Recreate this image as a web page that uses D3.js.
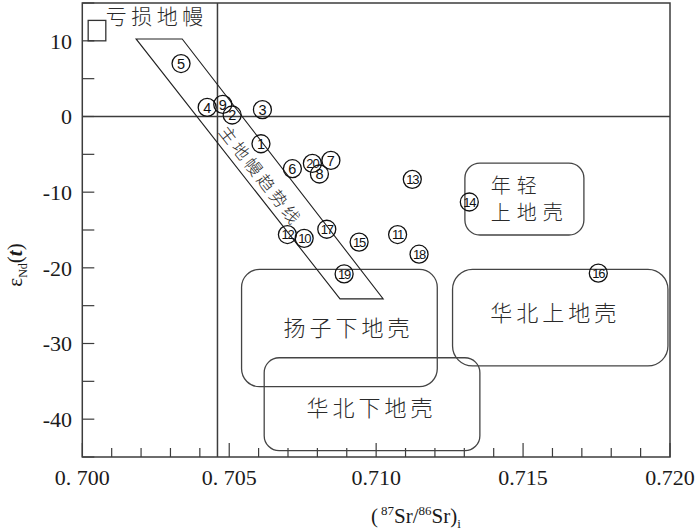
<!DOCTYPE html>
<html><head><meta charset="utf-8">
<script src="https://cdn.jsdelivr.net/npm/d3@7"></script>
<style>body{margin:0;background:#fff}</style>
</head><body><svg id="c" width="700" height="530"></svg>
<script>
// ---- data ----
const pointLabels = ["1","2","3","4","5","6","7","8","9","10","11","12","13","14","15","16","17","18","19","20"];
const srValues = [0.70608,0.70510,0.70613,0.70425,0.70336,0.70715,0.70846,0.70807,0.70478,0.70755,0.71073,0.70698,0.71123,0.71317,0.70942,0.71756,0.70832,0.71146,0.70891,0.70783];
const ndValues = [-3.6,0.2,0.9,1.2,7.0,-6.9,-5.8,-7.6,1.6,-16.1,-15.6,-15.6,-8.3,-11.3,-16.6,-20.7,-14.9,-18.2,-20.8,-6.2];

const xDomain = [0.700, 0.720];
const yDomain = [-45, 15];
const xTicks = [0.700, 0.705, 0.710, 0.715, 0.720];
const xTickLabels = ["0. 700", "0. 705", "0.710", "0.715", "0.720"];
const yTicks = [10, 0, -10, -20, -30, -40];
const yTickLabels = ["10", "0", "-10", "-20", "-30", "-40"];

// reference lines: bulk-earth Sr and CHUR Nd
const bulkEarthSr = 0.7046;
const churNd = 0;

// source regions
const regionNames = [["年轻", "上地壳"], ["华北上地壳"], ["扬子下地壳"], ["华北下地壳"]];
const regionSr = [[0.71302, 0.71707], [0.71260, 0.71993], [0.70542, 0.71208], [0.70619, 0.71353]];
const regionNd = [[-6.15, -15.66], [-20.2, -32.97], [-20.2, -35.71], [-31.88, -44.17]];
const regionLabelSr = [0.71390, 0.71603, 0.70899, 0.70977];
const regionLabelNd = [-11.0, -25.97, -27.95, -38.52];

// depleted mantle box
const dmName = "亏损地幔";
const dmSr = [0.7002, 0.7008];
const dmNd = [10, 12.7];

// mantle array band
const bandName = "主地幔趋势线";
const bandSr = [0.70183, 0.70340, 0.71024, 0.70877];
const bandNd = [10.25, 10.25, -24.1, -24.1];
const bandLabelSr = 0.70606;
const bandLabelNd = -7.9;

// ---- drawing ----
const svg = d3.select("#c");
const L = 82.3, T = 3, R = 670, B = 457;
const x = d3.scaleLinear().domain(xDomain).range([L, R]);
const y = d3.scaleLinear().domain(yDomain).range([B, T]);
const axisCol = "#3c3c3c";
const cjk = "'Noto Sans CJK SC', sans-serif";
const serif = "'Liberation Serif', 'Times New Roman', serif";

// frame
svg.append("rect").attr("x", L).attr("y", T).attr("width", R - L).attr("height", B - T)
  .attr("fill", "none").attr("stroke", axisCol).attr("stroke-width", 1.5);

// x ticks (inward)
const minorX = d3.range(0, 21).map(i => 0.700 + i * 0.001);
svg.append("g").selectAll("line").data(minorX).join("line")
  .attr("x1", d => x(d)).attr("x2", d => x(d))
  .attr("y1", B).attr("y2", (d, i) => B - (i % 5 === 0 ? 14 : 9))
  .attr("stroke", axisCol).attr("stroke-width", 1.2);
svg.append("g").selectAll("text").data(xTicks).join("text")
  .attr("x", d => x(d)).attr("y", 485)
  .attr("text-anchor", "middle").attr("font-family", serif).attr("font-size", 22).attr("fill", "#1a1a1a")
  .text((d, i) => xTickLabels[i]);

// y ticks (inward)
const minorY = d3.range(-45, 16, 5);
svg.append("g").selectAll("line").data(minorY).join("line")
  .attr("x1", L).attr("x2", L + 12)
  .attr("y1", d => y(d)).attr("y2", d => y(d))
  .attr("stroke", axisCol).attr("stroke-width", 1.2);
svg.append("g").selectAll("text").data(yTicks).join("text")
  .attr("x", 72).attr("y", d => y(d)).attr("dy", "0.35em")
  .attr("text-anchor", "end").attr("font-family", serif).attr("font-size", 22).attr("fill", "#1a1a1a")
  .text((d, i) => yTickLabels[i]);

// reference lines
svg.append("line").attr("x1", x(bulkEarthSr)).attr("x2", x(bulkEarthSr)).attr("y1", T).attr("y2", B)
  .attr("stroke", axisCol).attr("stroke-width", 1.5);
svg.append("line").attr("x1", L).attr("x2", R).attr("y1", y(churNd)).attr("y2", y(churNd))
  .attr("stroke", axisCol).attr("stroke-width", 1.5);

// axis titles
const xt = svg.append("text").attr("x", 416).attr("y", 523).attr("text-anchor", "middle")
  .attr("font-family", serif).attr("font-size", 21).attr("fill", "#1a1a1a");
xt.append("tspan").text("(");
xt.append("tspan").attr("font-size", 13).attr("dy", -8).attr("dx", 3).text("87");
xt.append("tspan").attr("dy", 8).text("Sr/");
xt.append("tspan").attr("font-size", 13).attr("dy", -8).text("86");
xt.append("tspan").attr("dy", 8).text("Sr)");
xt.append("tspan").attr("font-size", 13).attr("dy", 5).text("i");

const yt = svg.append("text").attr("transform", "translate(22,265) rotate(-90)")
  .attr("text-anchor", "middle").attr("font-family", serif).attr("font-size", 21).attr("fill", "#1a1a1a");
yt.append("tspan").text("ε");
yt.append("tspan").attr("font-size", 12).attr("dy", 5).text("Nd");
yt.append("tspan").attr("dy", -5).text("(");
yt.append("tspan").attr("font-style", "italic").attr("font-weight", "bold").text("t");
yt.append("tspan").text(")");

// regions
const radii = [15, 20, 18, 15];
regionNames.forEach((nm, i) => {
  const x0 = x(regionSr[i][0]), x1 = x(regionSr[i][1]);
  const y0 = y(regionNd[i][0]), y1 = y(regionNd[i][1]);
  svg.append("rect").attr("x", x0).attr("y", y0).attr("width", x1 - x0).attr("height", y1 - y0)
    .attr("rx", radii[i]).attr("fill", "none").attr("stroke", "#444").attr("stroke-width", 1.3);
  if (nm.length > 1) {
    nm.forEach((line, k) => svg.append("text").attr("font-family", cjk).attr("font-weight", 300)
      .attr("font-size", 20).attr("letter-spacing", 6).attr("fill", "#2a2a2a")
      .attr("x", x(regionLabelSr[i])).attr("y", y(regionLabelNd[i]) + (k - 0.5) * 26.5)
      .attr("dy", "0.35em").text(line));
  } else {
    svg.append("text").attr("font-family", cjk).attr("font-weight", 300)
      .attr("font-size", 22).attr("letter-spacing", 4).attr("fill", "#2a2a2a")
      .attr("x", x(regionLabelSr[i]) + 2).attr("y", y(regionLabelNd[i])).attr("dy", "0.35em")
      .attr("text-anchor", "middle").text(nm[0]);
  }
});

// depleted mantle
svg.append("rect").attr("x", x(dmSr[0])).attr("y", y(dmNd[1]))
  .attr("width", x(dmSr[1]) - x(dmSr[0])).attr("height", y(dmNd[0]) - y(dmNd[1]))
  .attr("fill", "none").attr("stroke", "#333").attr("stroke-width", 1.3);
svg.append("text").attr("x", x(dmSr[1])).attr("y", y(dmNd[1]) - 2)
  .attr("font-family", cjk).attr("font-weight", 300).attr("font-size", 21).attr("letter-spacing", 4.5).attr("fill", "#2a2a2a")
  .attr("dominant-baseline", "middle").text(dmName);

// mantle array band
const bandPts = bandSr.map((s, i) => [x(s), y(bandNd[i])]);
svg.append("path").attr("d", d3.line()(bandPts) + "Z")
  .attr("fill", "none").attr("stroke", "#222").attr("stroke-width", 1.1);
const ang = Math.atan2(bandPts[3][1] - bandPts[0][1], bandPts[3][0] - bandPts[0][0]) * 180 / Math.PI;
svg.append("text")
  .attr("transform", `translate(${x(bandLabelSr)},${y(bandLabelNd)}) rotate(${ang})`)
  .attr("text-anchor", "middle").attr("dy", "0.35em")
  .attr("font-family", cjk).attr("font-weight", 300).attr("font-size", 17).attr("letter-spacing", 3.3).attr("fill", "#2a2a2a")
  .text(bandName);

// samples
const g = svg.append("g").selectAll("g").data(pointLabels).join("g")
  .attr("transform", (d, i) => `translate(${x(srValues[i])},${y(ndValues[i])})`);
g.append("circle").attr("r", 9).attr("fill", "none").attr("stroke", "#111").attr("stroke-width", 1.3);
g.append("text").attr("text-anchor", "middle").attr("dy", "0.36em")
  .attr("font-family", "'Liberation Sans', Arial, sans-serif")
  .attr("font-size", d => d.length > 1 ? 13 : 14.5)
  .attr("letter-spacing", d => d.length > 1 ? -1.2 : 0)
  .attr("fill", "#111").text(d => d);
</script></body></html>
